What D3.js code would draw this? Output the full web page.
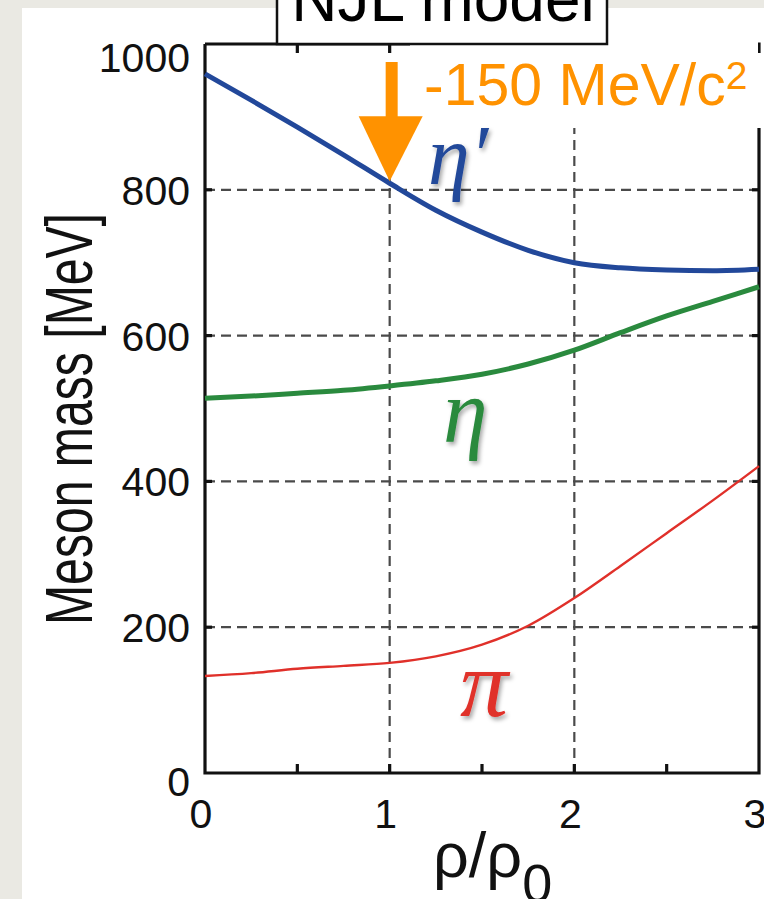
<!DOCTYPE html>
<html>
<head>
<meta charset="utf-8">
<script src="https://cdn.jsdelivr.net/npm/d3@7/dist/d3.min.js"></script>
<style>
  html, body { margin: 0; padding: 0; background: #eae9e3; }
  svg { display: block; }
</style>
</head>
<body>
<svg id="chart" width="764" height="899"></svg>
<script>
// Meson masses in the NJL model versus nuclear density
const density = [0, 0.25, 0.5, 0.75, 1, 1.25, 1.5, 1.75, 2, 2.25, 2.5, 2.75, 3];
const etaPrimeMass = [959, 923, 886, 848, 809, 772, 742, 717, 700, 693, 690, 689, 691];
const etaMass      = [514, 517, 521, 525, 531, 538, 547, 561, 580, 604, 627, 647, 667];
const pionMass     = [133, 137, 143, 147, 151, 160, 176, 202, 240, 284, 329, 374, 421];

const xTicks = [0, 1, 2, 3];
const xMinorTicks = [0.5, 1, 1.5, 2, 2.5];
const yTicks = [0, 200, 400, 600, 800, 1000];
const gridX = [1, 2];
const gridY = [200, 400, 600, 800];

const massShift = -150;           // drop of the eta' mass at normal density
const shiftAt = 1;                // density where the shift is marked

const svg = d3.select("#chart");
const W = 764, H = 899;

// white slide panel
svg.append("rect").attr("x", 22).attr("y", 8).attr("width", W).attr("height", H)
  .attr("fill", "#ffffff");

const plot = { left: 205, right: 759, top: 44, bottom: 773 };
const x = d3.scaleLinear().domain([0, 3]).range([plot.left, plot.right]);
const y = d3.scaleLinear().domain([0, 1000]).range([plot.bottom, plot.top]);

// drop shadow for the particle symbols
const defs = svg.append("defs");
const f = defs.append("filter").attr("id", "shadow")
  .attr("x", "-30%").attr("y", "-30%").attr("width", "160%").attr("height", "160%");
f.append("feDropShadow").attr("dx", 2).attr("dy", 3).attr("stdDeviation", 2)
  .attr("flood-color", "#000").attr("flood-opacity", 0.35);

// dashed grid
const grid = svg.append("g").attr("stroke", "#4a4a4a").attr("stroke-width", 2.2)
  .attr("stroke-dasharray", "10,6");
grid.selectAll("line.gy").data(gridY).join("line").attr("class", "gy")
  .attr("x1", plot.left).attr("x2", plot.right)
  .attr("y1", d => y(d)).attr("y2", d => y(d));
grid.selectAll("line.gx").data(gridX).join("line").attr("class", "gx")
  .attr("y1", plot.top).attr("y2", plot.bottom)
  .attr("x1", d => x(d)).attr("x2", d => x(d));

// frame with inward ticks
const frame = svg.append("g").attr("stroke", "#111").attr("stroke-width", 3.2).attr("fill", "none");
frame.append("path").attr("d",
  `M${plot.left},${plot.top}V${plot.bottom}H${plot.right}V${plot.top}H${plot.left}`);
frame.selectAll("line.bt").data(xMinorTicks).join("line").attr("class", "bt")
  .attr("x1", d => x(d)).attr("x2", d => x(d))
  .attr("y1", plot.bottom).attr("y2", plot.bottom - 9);
frame.selectAll("line.tt").data(xMinorTicks).join("line").attr("class", "tt")
  .attr("x1", d => x(d)).attr("x2", d => x(d))
  .attr("y1", plot.top).attr("y2", plot.top + 9);
frame.selectAll("line.lt").data(gridY).join("line").attr("class", "lt")
  .attr("x1", plot.left).attr("x2", plot.left + 7)
  .attr("y1", d => y(d)).attr("y2", d => y(d));
frame.selectAll("line.rt").data(gridY).join("line").attr("class", "rt")
  .attr("x1", plot.right).attr("x2", plot.right - 7)
  .attr("y1", d => y(d)).attr("y2", d => y(d));

// curves
const line = d3.line().x((d, i) => x(density[i])).y(d => y(d)).curve(d3.curveMonotoneX);
const curves = [
  { values: pionMass, color: "#e0302a", width: 2.4 },
  { values: etaMass, color: "#2a8a3e", width: 5 },
  { values: etaPrimeMass, color: "#22489a", width: 5 }
];
svg.append("g").selectAll("path").data(curves).join("path")
  .attr("d", d => line(d.values))
  .attr("fill", "none")
  .attr("stroke", d => d.color)
  .attr("stroke-width", d => d.width)
  .attr("stroke-linejoin", "round");

// white backing for the mass-shift annotation
svg.append("rect").attr("x", 381).attr("y", 53).attr("width", W - 381).attr("height", 75)
  .attr("fill", "#fff");
svg.append("rect").attr("x", 410).attr("y", 38).attr("width", plot.right - 411).attr("height", 16)
  .attr("fill", "#fff");

// arrow pointing at the eta' mass at normal density
const tipX = x(shiftAt);
const tipY = y(etaPrimeMass[density.indexOf(shiftAt)]) - 2;
const headTop = tipY - 65;
const arrowColor = "#ff9200";
svg.append("rect").attr("x", tipX - 4).attr("y", 62).attr("width", 12)
  .attr("height", headTop - 62 + 2).attr("fill", arrowColor);
svg.append("path")
  .attr("d", `M${tipX - 31},${headTop}L${tipX + 33},${headTop}L${tipX},${tipY}Z`)
  .attr("fill", arrowColor);

const shiftLabel = svg.append("text")
  .attr("x", 424).attr("y", 105)
  .attr("font-family", "'Liberation Sans', Arial, sans-serif")
  .attr("font-size", 59).attr("fill", arrowColor);
shiftLabel.append("tspan").text(`${massShift} MeV/c`);
shiftLabel.append("tspan").attr("font-size", 39).attr("dy", -16).text("2");

// title box
svg.append("rect").attr("x", 277).attr("y", -20).attr("width", 330).attr("height", 64)
  .attr("fill", "#fff").attr("stroke", "#111").attr("stroke-width", 2.5);
svg.append("text").attr("x", 443).attr("y", 21).attr("text-anchor", "middle")
  .attr("font-family", "'Liberation Sans', Arial, sans-serif")
  .attr("font-size", 64).attr("fill", "#000").text("NJL model");

// tick labels
const tickFont = "'Liberation Sans', Arial, sans-serif";
svg.append("g").selectAll("text").data(yTicks).join("text")
  .attr("x", 190)
  .attr("y", d => y(d) + (d === 1000 ? 28 : d === 0 ? 23 : 15))
  .attr("text-anchor", "end")
  .attr("font-family", tickFont).attr("font-size", 41).attr("fill", "#111")
  .text(d => d);
svg.append("g").selectAll("text").data(xTicks).join("text")
  .attr("x", d => x(d) - 4)
  .attr("y", 828)
  .attr("text-anchor", "middle")
  .attr("font-family", tickFont).attr("font-size", 41).attr("fill", "#111")
  .text(d => d);

// axis titles
svg.append("text")
  .attr("transform", "translate(92,419) rotate(-90)")
  .attr("text-anchor", "middle")
  .attr("font-family", "'Liberation Sans Narrow', 'Liberation Sans', Arial, sans-serif")
  .attr("font-size", 66).attr("fill", "#111")
  .attr("textLength", 412).attr("lengthAdjust", "spacingAndGlyphs")
  .text("Meson mass [MeV]");

const xTitle = svg.append("text").attr("x", 433).attr("y", 877)
  .attr("font-family", tickFont).attr("font-size", 63).attr("fill", "#111");
xTitle.append("tspan").text("ρ/ρ");
xTitle.append("tspan").attr("font-size", 54).attr("dy", 25).text("0");

// particle symbols
const symbols = [
  { text: "η′", color: "#22489a", x: 428, y: 184, size: 84 },
  { text: "η", color: "#2a8a3e", x: 443, y: 442, size: 90 },
  { text: "π", color: "#e0302a", x: 460, y: 716, size: 96 }
];
svg.append("g").selectAll("text").data(symbols).join("text")
  .attr("x", d => d.x).attr("y", d => d.y)
  .attr("font-family", "'Liberation Serif', 'DejaVu Serif', serif")
  .attr("font-style", "italic")
  .attr("font-size", d => d.size)
  .attr("fill", d => d.color)
  .attr("filter", "url(#shadow)")
  .text(d => d.text);
</script>
</body>
</html>
